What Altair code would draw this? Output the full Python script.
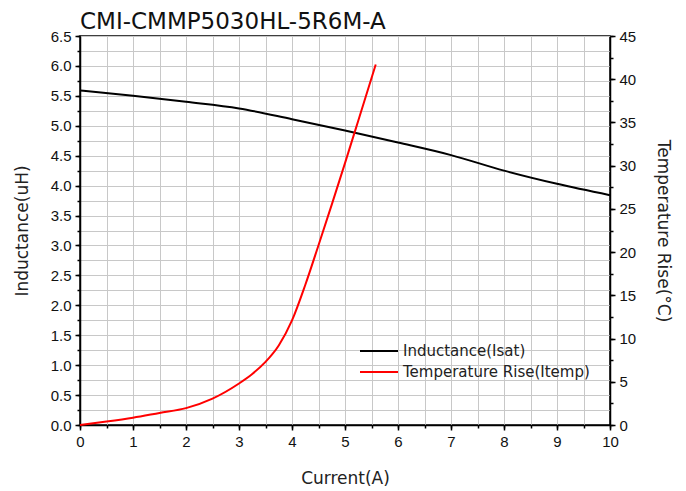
import altair as alt
import pandas as pd

# ---- data ----
current_L = [0, 1, 2, 3, 4, 5, 6, 7, 8, 9, 10]
inductance = [5.59, 5.50, 5.40, 5.29, 5.11, 4.92, 4.72, 4.51, 4.25, 4.03, 3.84]

current_T = [0, 0.5, 1, 1.5, 2, 2.5, 3, 3.25, 3.5, 3.75, 4.0, 4.25, 4.5, 4.75, 5.0, 5.25, 5.58]
temp_rise = [0, 0.4, 0.85, 1.4, 1.95, 3.05, 4.8, 5.9, 7.3, 9.2, 12.1, 16.2, 20.8, 25.5, 30.3, 35.2, 41.7]

series_names = ["Inductance(Isat)", "Temperature Rise(Itemp)"]
series_colors = ["#000000", "#ff0000"]

x_major_vals = list(range(0, 11))
x_minor_vals = [i * 0.5 for i in range(0, 21)]
yl_major_vals = [i * 0.5 for i in range(0, 14)]
yl_minor_vals = [i * 0.25 for i in range(0, 27)]
yr_major_vals = list(range(0, 46, 5))
yr_minor_vals = [i * 2.5 for i in range(0, 19)]

dfL = pd.DataFrame({"Current": current_L, "Value": inductance, "Series": series_names[0]})
dfT = pd.DataFrame({"Current": current_T, "Value": temp_rise, "Series": series_names[1]})

TICKF = "Liberation Sans"
TITLEF = "DejaVu Sans"

xscale = alt.Scale(domain=[0, 10], nice=False, zero=False)
ylscale = alt.Scale(domain=[0, 6.5], nice=False)
yrscale = alt.Scale(domain=[0, 45], nice=False)

color = alt.Color(
    "Series:N",
    scale=alt.Scale(domain=series_names, range=series_colors),
    legend=alt.Legend(
        title=None, orient="none", legendX=279, legendY=306,
        symbolType="stroke", symbolSize=1444, symbolStrokeWidth=2,
        clipHeight=18, rowPadding=3, labelOffset=4, labelLimit=0,
        labelFont=TITLEF, labelFontSize=15, labelColor="#222",
    ),
)

# minor ticks + grid (left / bottom)
grid_layer = alt.Chart(dfL).mark_line(opacity=0).encode(
    x=alt.X("Current:Q", scale=xscale, axis=alt.Axis(
        orient="bottom", values=x_minor_vals, labels=False, title=None,
        grid=True, gridColor="#c8c8c8", gridWidth=1, tickSize=3,
        tickColor="black", tickWidth=1.5, domain=False)),
    y=alt.Y("Value:Q", scale=ylscale, axis=alt.Axis(
        orient="left", values=yl_minor_vals, labels=False, title=None,
        grid=True, gridColor="#c8c8c8", gridWidth=1, tickSize=3,
        tickColor="black", tickWidth=1.5, domain=False)),
)

ind_line = alt.Chart(dfL).mark_line(strokeWidth=2, interpolate="monotone").encode(
    x=alt.X("Current:Q", scale=xscale, axis=alt.Axis(
        orient="bottom", values=x_major_vals, format="d", title="Current(A)",
        grid=False, tickSize=5, tickColor="black", tickWidth=1.5,
        domainColor="black", domainWidth=1.5, labelFlush=False,
        labelFont=TICKF, labelFontSize=15, labelColor="#111", labelPadding=4,
        titleFont=TITLEF, titleFontSize=17, titleFontWeight="normal",
        titleColor="#222", titlePadding=21)),
    y=alt.Y("Value:Q", scale=ylscale, axis=alt.Axis(
        orient="left", values=yl_major_vals, format=".1f", title="Inductance(uH)",
        grid=False, tickSize=5, tickColor="black", tickWidth=1.5,
        domainColor="black", domainWidth=1.5, labelFlush=False,
        labelFont=TICKF, labelFontSize=15, labelColor="#111", labelPadding=4,
        titleFont=TITLEF, titleFontSize=17, titleFontWeight="normal",
        titleColor="#222", titlePadding=19)),
    color=color,
)

temp_minor = alt.Chart(dfT).mark_line(opacity=0).encode(
    x=alt.X("Current:Q", scale=xscale, axis=None),
    y=alt.Y("Value:Q", scale=yrscale, axis=alt.Axis(
        orient="right", values=yr_minor_vals, labels=False, title=None,
        grid=False, tickSize=3, tickColor="black", tickWidth=1.5, domain=False)),
)

temp_line = alt.Chart(dfT).mark_line(strokeWidth=2, interpolate="monotone").encode(
    x=alt.X("Current:Q", scale=xscale, axis=None),
    y=alt.Y("Value:Q", scale=yrscale, axis=alt.Axis(
        orient="right", values=yr_major_vals, format="d", title="Temperature Rise(°C)",
        grid=False, tickSize=5, tickColor="black", tickWidth=1.5,
        domainColor="black", domainWidth=1.5, labelFlush=False,
        labelFont=TICKF, labelFontSize=15, labelColor="#111", labelPadding=4,
        titleFont=TITLEF, titleFontSize=17, titleFontWeight="normal",
        titleColor="#222", titlePadding=18)),
    color=color,
)

chart = alt.layer(grid_layer, ind_line, temp_minor, temp_line).resolve_scale(
    y="independent"
).resolve_axis(
    x="independent", y="independent"
).properties(
    width=530, height=389,
    padding={"left": 5, "top": 3, "right": 5, "bottom": 0},
    title=alt.TitleParams("CMI-CMMP5030HL-5R6M-A", anchor="start", frame="group",
                          font=TITLEF, fontSize=23, fontWeight="normal",
                          color="#111", offset=-5),
).configure_view(stroke="black", strokeWidth=1.5)

chart.save("out.html", embed_options={"renderer": "svg", "actions": False})
